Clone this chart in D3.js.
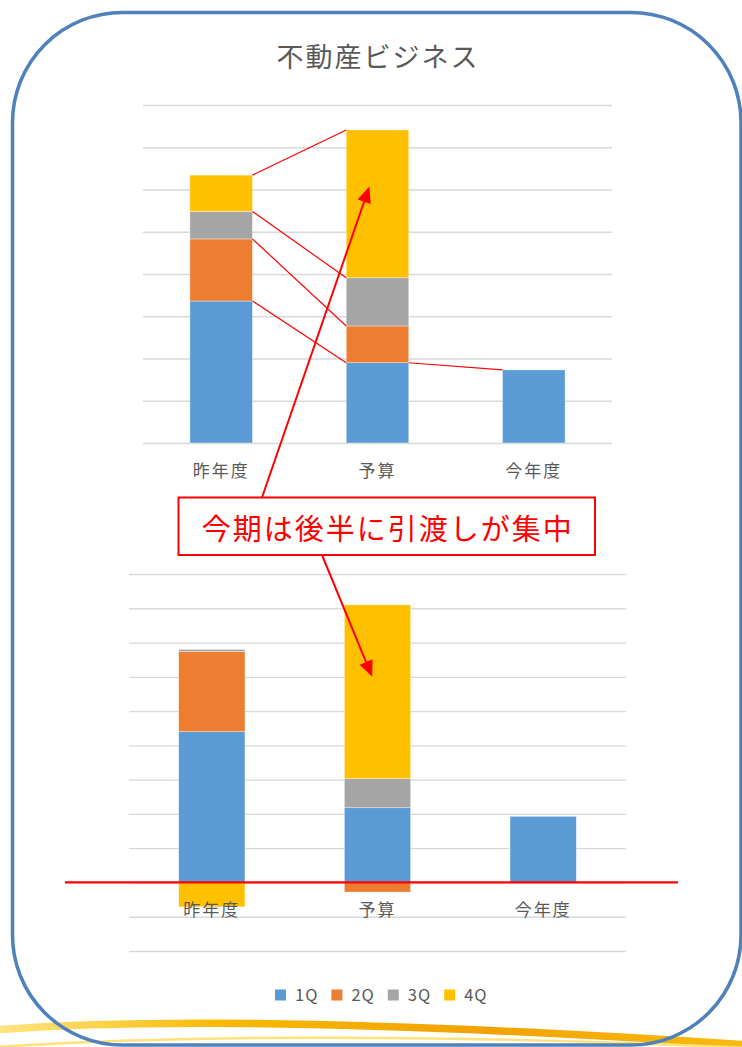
<!DOCTYPE html>
<html>
<head>
<meta charset="utf-8">
<script src="https://cdn.jsdelivr.net/npm/d3@7"></script>
<style>
    html, body { margin: 0; padding: 0; background: #fff; }
    svg { display: block; }
</style>
</head>
<body>
<svg id="chart"></svg>
<script>
const title = '不動産ビジネス'
const note = '今期は後半に引渡しが集中'
const categories = ['昨年度', '予算', '今年度']
const quarters = ['1Q', '2Q', '3Q', '4Q']
const quarterColors = ['#5B9BD5', '#ED7D31', '#A5A5A5', '#FFC000']

// 上段グラフ
const upper1Q = [33.6, 19.0, 17.3]
const upper2Q = [14.7, 8.7, 0]
const upper3Q = [6.5, 11.4, 0]
const upper4Q = [8.6, 35.0, 0]
const upperTicks = [0, 10, 20, 30, 40, 50, 60, 70, 80]

// 下段グラフ
const lower1Q = [44.0, 21.8, 19.3]
const lower2Q = [23.4, -2.8, 0]
const lower3Q = [0.6, 8.5, 0]
const lower4Q = [-7.1, 50.7, 0]
const lowerTicks = [-20, -10, 0, 10, 20, 30, 40, 50, 60, 70, 80, 90]

const W = 742
const H = 1047
const FONT = '"Noto Sans CJK JP", "Noto Sans", sans-serif'
const TEXT_COLOR = '#595959'

const svg = d3.select('#chart').attr('width', W).attr('height', H)

const buildRows = (s1, s2, s3, s4) => categories.map((c, i) => ({
    category: c, '1Q': s1[i], '2Q': s2[i], '3Q': s3[i], '4Q': s4[i]
}))

const drawPanel = (rows, ticks, box) => {
    const x = d3.scaleBand().domain(categories)
        .range([box.left, box.right])
        .paddingInner(0.6).paddingOuter(0.3)
    const y = d3.scaleLinear().domain(d3.extent(ticks)).range([box.bottom, box.top])

    // 目盛線
    svg.append('g')
        .attr('transform', `translate(${box.left},0)`)
        .call(d3.axisLeft(y).tickValues(ticks).tickSize(-(box.right - box.left)).tickFormat(''))
        .call(g => g.select('.domain').remove())
        .call(g => g.selectAll('line').attr('stroke', '#D9D9D9').attr('stroke-width', 1.3))

    const series = d3.stack().keys(quarters).offset(d3.stackOffsetDiverging)(rows)

    svg.append('g').selectAll('g').data(series).join('g')
        .attr('fill', (d, i) => quarterColors[i])
        .selectAll('rect').data(d => d.filter(v => v[1] !== v[0])).join('rect')
        .attr('x', d => x(d.data.category))
        .attr('width', x.bandwidth())
        .attr('y', d => y(Math.max(d[0], d[1])))
        .attr('height', d => Math.abs(y(d[0]) - y(d[1])))
        .attr('stroke', '#fff')
        .attr('stroke-opacity', 0.6)
        .attr('stroke-width', 0.6)

    svg.append('g').selectAll('text').data(categories).join('text')
        .text(d => d)
        .attr('x', d => x(d) + x.bandwidth() / 2)
        .attr('y', y(0) + 34)
        .attr('text-anchor', 'middle')
        .attr('font-family', FONT)
        .attr('font-size', 17)
        .attr('letter-spacing', 2)
        .attr('fill', TEXT_COLOR)

    return { x, y, series }
}

// 背景の飾り線
const defs = svg.append('defs')
const grad = defs.append('linearGradient').attr('id', 'swoosh')
    .attr('x1', 0).attr('x2', 1).attr('y1', 0).attr('y2', 0)
grad.selectAll('stop').data([
    [0, '#FFD84A', 0.7], [0.3, '#F7B800', 1], [0.65, '#F2A200', 1], [1, '#F9BC10', 1]
]).join('stop')
    .attr('offset', d => d[0]).attr('stop-color', d => d[1]).attr('stop-opacity', d => d[2])

svg.append('path')
    .attr('d', 'M-5,1030 Q230,1011 750,1045')
    .attr('fill', 'none').attr('stroke', 'url(#swoosh)').attr('stroke-width', 7.5)
svg.append('path')
    .attr('d', 'M-5,1047 Q300,1028 750,1048')
    .attr('fill', 'none').attr('stroke', '#FFE27A').attr('stroke-width', 2.5)

// 枠
svg.append('rect')
    .attr('x', 12.5).attr('y', 12.5)
    .attr('width', 728.5).attr('height', 1032.5)
    .attr('rx', 110).attr('ry', 110)
    .attr('fill', 'none')
    .attr('stroke', '#4F81BD')
    .attr('stroke-width', 3.5)

svg.append('text')
    .text(title)
    .attr('x', 378).attr('y', 67)
    .attr('text-anchor', 'middle')
    .attr('font-family', FONT)
    .attr('font-size', 27)
    .attr('letter-spacing', 2)
    .attr('fill', TEXT_COLOR)

const upper = drawPanel(buildRows(upper1Q, upper2Q, upper3Q, upper4Q), upperTicks,
    { left: 143, right: 612, top: 105, bottom: 443 })
const lower = drawPanel(buildRows(lower1Q, lower2Q, lower3Q, lower4Q), lowerTicks,
    { left: 129, right: 626, top: 574, bottom: 951 })

// 上段の比較線
const bw = upper.x.bandwidth()
const links = upper.series.map(s => ({
    x1: upper.x(categories[0]) + bw, y1: upper.y(s[0][1]),
    x2: upper.x(categories[1]), y2: upper.y(s[1][1])
}))
links.push({
    x1: upper.x(categories[1]) + bw, y1: upper.y(upper.series[0][1][1]),
    x2: upper.x(categories[2]), y2: upper.y(upper.series[0][2][1])
})
svg.append('g').selectAll('line').data(links).join('line')
    .attr('x1', d => d.x1).attr('y1', d => d.y1)
    .attr('x2', d => d.x2).attr('y2', d => d.y2)
    .attr('stroke', '#FF0000').attr('stroke-width', 1.2)

// 下段のゼロ線
svg.append('line')
    .attr('x1', 65).attr('x2', 678)
    .attr('y1', lower.y(0)).attr('y2', lower.y(0))
    .attr('stroke', '#FF0000').attr('stroke-width', 2.2)

// 吹き出し
const noteBox = { x: 178.5, y: 497.5, w: 416.5, h: 57.5 }

const drawArrow = (x1, y1, x2, y2) => {
    const ang = Math.atan2(y2 - y1, x2 - x1)
    const len = 16
    const half = 7
    const bx = x2 - len * Math.cos(ang)
    const by = y2 - len * Math.sin(ang)
    svg.append('line')
        .attr('x1', x1).attr('y1', y1).attr('x2', bx).attr('y2', by)
        .attr('stroke', '#FF0000').attr('stroke-width', 2)
    const pts = [
        [x2, y2],
        [bx + half * Math.sin(ang), by - half * Math.cos(ang)],
        [bx - half * Math.sin(ang), by + half * Math.cos(ang)]
    ]
    svg.append('polygon')
        .attr('points', pts.map(p => p.join(',')).join(' '))
        .attr('fill', '#FF0000')
}

drawArrow(262, noteBox.y,
    upper.x(categories[1]) + bw * 0.37, upper.y(60.7))
drawArrow(322, noteBox.y + noteBox.h,
    lower.x(categories[1]) + lower.x.bandwidth() * 0.42, lower.y(60))

svg.append('rect')
    .attr('x', noteBox.x).attr('y', noteBox.y)
    .attr('width', noteBox.w).attr('height', noteBox.h)
    .attr('fill', '#fff')
    .attr('stroke', '#FF0000')
    .attr('stroke-width', 2)

svg.append('text')
    .text(note)
    .attr('x', noteBox.x + noteBox.w / 2 + 1)
    .attr('y', 540)
    .attr('text-anchor', 'middle')
    .attr('font-family', FONT)
    .attr('font-size', 29)
    .attr('letter-spacing', 2)
    .attr('fill', '#FF0000')

// 凡例
const legend = svg.append('g').attr('transform', 'translate(275,989.5)')
const item = legend.selectAll('g').data(quarters).join('g')
    .attr('transform', (d, i) => `translate(${i * 56.4},0)`)
item.append('rect')
    .attr('width', 11).attr('height', 11)
    .attr('fill', (d, i) => quarterColors[i])
item.append('text')
    .text(d => d)
    .attr('x', 20).attr('y', 11.5)
    .attr('font-family', FONT)
    .attr('font-size', 16.5)
    .attr('letter-spacing', 1)
    .attr('fill', TEXT_COLOR)
</script>
</body>
</html>
